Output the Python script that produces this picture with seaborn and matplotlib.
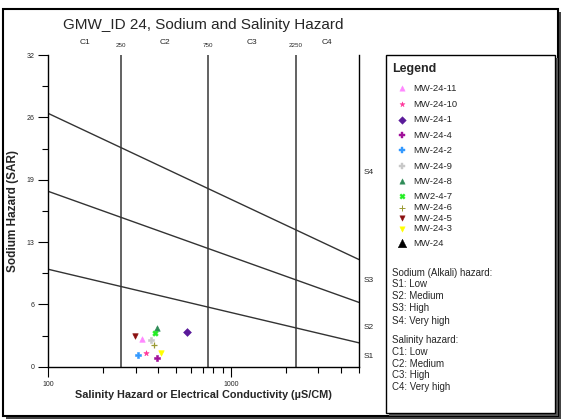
import matplotlib
matplotlib.use("Agg")
import matplotlib.pyplot as plt
from matplotlib.patches import Rectangle
from matplotlib.ticker import FixedLocator, NullFormatter
import seaborn as sns
import pandas as pd
import numpy as np

# Datos
wells = ["MW-24-11", "MW-24-10", "MW-24-1", "MW-24-4", "MW-24-2", "MW-24-9",
         "MW-24-8", "MW2-4-7", "MW-24-6", "MW-24-5", "MW-24-3", "MW-24"]
ec = [324, 343, 571, 391, 310, 363, 391, 381, 378, 298, 415, np.nan]
sar = [2.84, 1.44, 3.56, 0.86, 1.20, 2.74, 3.94, 3.49, 2.23, 3.12, 1.44, np.nan]
colors = ["#ff88ff", "#ff3399", "#5a1a9a", "#a0119a", "#3399ff", "#c8c8c8",
          "#2e8b57", "#22ee22", "#9a9a33", "#8b1010", "#ffff00", "#000000"]
markers = ["^", "*", "D", "P", "P", "P", "^", "X", "+", "v", "v", "^"]

# Límites de clases (Richards)
ec_limits = [250, 750, 2250]
ec_classes = ["C1", "C2", "C3", "C4"]
ec_class_pos = [158, 435, 1300, 3350]
sar_lines = [(26.0, 11.0), (18.0, 6.6), (10.0, 2.45)]
sar_classes = ["S4", "S3", "S2", "S1"]
sar_class_pos = [19.9, 8.9, 4.0, 1.0]
y_ticks = [0, 6.4, 12.8, 19.2, 25.6, 32]
y_labels = ["0", "6", "13", "19", "26", "32"]

legend_notes = ["Sodium (Alkali) hazard:", "S1: Low", "S2: Medium", "S3: High", "S4: Very high",
                "Salinity hazard:", "C1: Low", "C2: Medium", "C3: High", "C4: Very high"]

df = pd.DataFrame({"well": wells, "ec": ec, "sar": sar})

sns.set_style("white")
plt.rcParams["font.family"] = ["Liberation Sans", "DejaVu Sans"]

W, H = 561, 419
fig = plt.figure(figsize=(W / 100, H / 100), dpi=100)

def fx(px):
    return px / W

def fy(py):
    return 1 - py / H

# Marco exterior con sombra
fig.patches.append(Rectangle((fx(6), fy(419)), fx(555), fy(12) - fy(419),
                             transform=fig.transFigure, facecolor="#444444", edgecolor="none", zorder=-2))
fig.patches.append(Rectangle((fx(3), fy(416)), fx(555), fy(9) - fy(416),
                             transform=fig.transFigure, facecolor="white", edgecolor="black",
                             linewidth=1.5, zorder=-1))

ax = fig.add_axes([fx(48.3), fy(366.7), fx(359 - 48.3), fy(55) - fy(366.7)])
ax.set_zorder(2)
ax.patch.set_alpha(0)

for v in ec_limits:
    ax.axvline(v, color="#555555", linewidth=1.3, zorder=1)

xs = np.array([100, 5000])
for a, b in sar_lines:
    ax.plot(xs, [a, b], color="#333333", linewidth=1.0, zorder=1)

# un scatterplot por pozo (mezcla de marcadores rellenos y de línea)
for name, c, m in zip(wells, colors, markers):
    sub = df[df["well"] == name].dropna()
    if len(sub) == 0:
        continue
    sns.scatterplot(data=sub, x="ec", y="sar", color=c, marker=m, s=16,
                    linewidth=0.9 if m == "+" else 0.4, edgecolor=c, legend=False, ax=ax, zorder=3)

ax.set_xscale("log")
ax.set_xlim(100, 5000)
ax.set_ylim(0, 32)

ax.spines["top"].set_visible(False)
for s in ["left", "bottom", "right"]:
    ax.spines[s].set_color("black")
    ax.spines[s].set_linewidth(1.0)

ax.set_yticks(y_ticks)
ax.set_yticklabels(y_labels, fontsize=5)
ax.yaxis.set_minor_locator(FixedLocator([3.2, 9.6, 16, 22.4, 28.8]))
ax.set_xticks([100, 1000])
ax.set_xticklabels(["100", "1000"], fontsize=5)
ax.xaxis.set_minor_locator(FixedLocator([200, 300, 400, 500, 600, 700, 800, 900,
                                         2000, 3000, 4000, 5000]))
ax.xaxis.set_minor_formatter(NullFormatter())
ax.tick_params(axis="both", which="major", direction="out", length=7, width=0.8,
               color="black", pad=3, left=True, bottom=True)
ax.tick_params(axis="both", which="minor", direction="out", length=4, width=0.8,
               color="black", left=True, bottom=True)

ax.set_xlabel("Salinity Hazard or Electrical Conductivity (\u00b5S/CM)", fontsize=7.8,
              fontweight="bold", va="center")
ax.set_ylabel("Sodium Hazard (SAR)", fontsize=8.5, fontweight="bold", va="center")
ax.xaxis.set_label_coords((203 - 48.3) / 310.7, (366.7 - 395) / 311.7)
ax.yaxis.set_label_coords((13 - 48.3) / 310.7, 0.5)

for v in ec_limits:
    ax.text(v, 32.95, str(v), fontsize=4.5, ha="center", va="center")
for lab, pos in zip(ec_classes, ec_class_pos):
    ax.text(pos, 33.25, lab, fontsize=6, ha="center", va="center")
for lab, pos in zip(sar_classes, sar_class_pos):
    ax.text(5000 * 1.06, pos, lab, fontsize=6, ha="left", va="center")

fig.text(fx(203), fy(25), "GMW_ID 24, Sodium and Salinity Hazard", fontsize=11,
         ha="center", va="center", zorder=3)

# Caja de leyenda con sombra
lax = fig.add_axes([0, 0, 1, 1])
lax.set_zorder(3)
lax.patch.set_alpha(0)
lax.set_xlim(0, W)
lax.set_ylim(H, 0)
lax.axis("off")
lax.add_patch(Rectangle((389, 58), 169, 358, facecolor="#555555", edgecolor="none", zorder=1))
lax.add_patch(Rectangle((386, 55), 169, 358, facecolor="white", edgecolor="black",
                        linewidth=1.0, zorder=1.5))

lax.text(392, 69, "Legend", fontsize=9, fontweight="bold", ha="left", va="center", zorder=4)
leg_y = [88.3, 104, 119.7, 135, 150.3, 166, 181.3, 196, 207.7, 218.3, 228.7, 243]
for name, c, m, y in zip(wells, colors, markers, leg_y):
    size = 38 if name == "MW-24" else 15
    lax.scatter([402], [y], color=c, marker=m, s=size, linewidths=0.7 if m == "+" else 0.3,
                edgecolors=c, zorder=4)
    lax.text(413, y, name, fontsize=6.8, ha="left", va="center", zorder=4)

note_y = [273, 284, 295.5, 308, 320.5, 339.5, 352, 363.5, 375, 386.7]
for t, y in zip(legend_notes, note_y):
    lax.text(392.5, y, t, fontsize=7, ha="left", va="center", zorder=4)

plt.savefig("out.png", dpi=100)
